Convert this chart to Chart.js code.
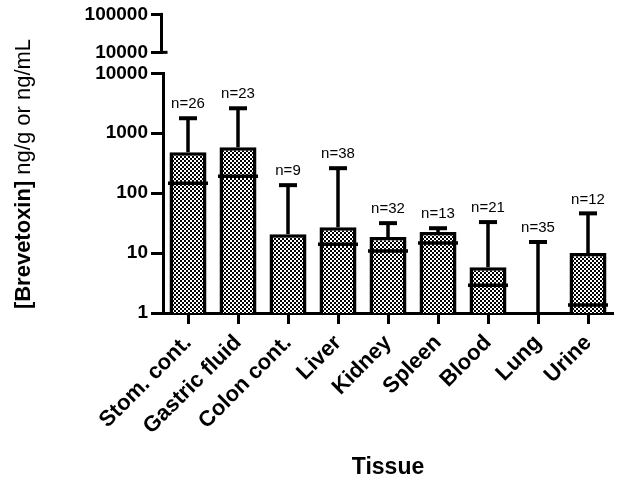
<!DOCTYPE html>
<html>
<head>
<meta charset="utf-8">
<script src="https://cdn.jsdelivr.net/npm/chart.js@4.4.0/dist/chart.umd.min.js"></script>
<style>
  html, body { margin: 0; padding: 0; background: #fff; }
  #wrap { width: 620px; height: 487px; position: relative; }
</style>
</head>
<body>
<div id="wrap"><canvas id="c"></canvas></div>
<script>
const categories = ['Stom. cont.', 'Gastric fluid', 'Colon cont.', 'Liver', 'Kidney', 'Spleen', 'Blood', 'Lung', 'Urine'];
const means   = [482, 584, 20.7, 27, 18.5, 22.4, 5.8, null, 10];
const medians = [147, 192, null, 14, 10.8, 14.7, 2.9, null, 1.36];
const upper   = [1780, 2610, 136, 261, 31.6, 26, 32.9, 15.3, 46];
const nCounts = [26, 23, 9, 38, 32, 13, 21, 35, 12];
const lowerTicks = [1, 10, 100, 1000, 10000];
const upperTicks = [10000, 100000];

const FAM = '"Liberation Sans", Arial, Helvetica, sans-serif';

function makePattern() {
  const c = document.createElement('canvas');
  c.width = 4; c.height = 4;
  const g = c.getContext('2d');
  g.fillStyle = '#fff'; g.fillRect(0, 0, 4, 4);
  g.fillStyle = '#000'; g.fillRect(0, 0, 2, 2); g.fillRect(2, 2, 2, 2);
  return g.createPattern(c, 'repeat');
}

const overlay = {
  id: 'overlay',
  afterDatasetsDraw(chart) {
    const {ctx} = chart;
    const xs = chart.scales.x, ys = chart.scales.y;
    const meta = chart.getDatasetMeta(0);
    ctx.save();
    ctx.strokeStyle = '#000';
    ctx.fillStyle = '#000';
    categories.forEach((c, i) => {
      const cx = xs.getPixelForValue(i);
      const from = ys.getPixelForValue(means[i] == null ? 1 : means[i]);
      const top = ys.getPixelForValue(upper[i]);
      ctx.lineWidth = 3.5;
      ctx.beginPath(); ctx.moveTo(cx, from); ctx.lineTo(cx, top); ctx.stroke();
      ctx.lineWidth = 4;
      ctx.beginPath(); ctx.moveTo(cx - 9, top); ctx.lineTo(cx + 9, top); ctx.stroke();
      if (medians[i] != null) {
        const bw = meta.data[i].width;
        const my = ys.getPixelForValue(medians[i]);
        ctx.lineWidth = 3.5;
        ctx.beginPath(); ctx.moveTo(cx - bw / 2 - 1.5, my); ctx.lineTo(cx + bw / 2 + 1.5, my); ctx.stroke();
      }
      ctx.font = '15px ' + FAM;
      ctx.textAlign = 'center';
      ctx.textBaseline = 'middle';
      ctx.fillText('n=' + nCounts[i], cx, top - 14);
    });
    ctx.restore();
  },
  afterDraw(chart) {
    const {ctx} = chart;
    const ys = chart.scales.y, yt = chart.scales.yTop;
    ctx.save();
    // upper broken axis segment
    const ax = ys.right - 1.5;
    const p1 = yt.getPixelForValue(upperTicks[1]);
    const p0 = yt.getPixelForValue(upperTicks[0]);
    ctx.strokeStyle = '#000';
    ctx.lineWidth = 3;
    ctx.beginPath(); ctx.moveTo(ax, p1 - 1.5); ctx.lineTo(ax, p0 + 1.5); ctx.stroke();
    ctx.beginPath(); ctx.moveTo(ax - 1.5, p0); ctx.lineTo(ax + 6, p0); ctx.stroke();
    // y title with mixed weight
    ctx.translate(24, 174);
    ctx.rotate(-Math.PI / 2);
    ctx.fillStyle = '#000';
    ctx.textBaseline = 'middle';
    ctx.textAlign = 'left';
    const t1 = '[Brevetoxin]', t2 = ' ng/g or ng/mL';
    ctx.font = 'bold 22px ' + FAM;
    const w1 = ctx.measureText(t1).width;
    ctx.font = '22px ' + FAM;
    const w2 = ctx.measureText(t2).width;
    const sx = -(w1 + w2) / 2;
    ctx.font = 'bold 22px ' + FAM;
    ctx.fillText(t1, sx, 0);
    ctx.font = '22px ' + FAM;
    ctx.fillText(t2, sx + w1, 0);
    ctx.restore();
  }
};

const tickFont = {family: FAM, size: 19, weight: 'bold'};
const yGrid = {drawOnChartArea: false, tickLength: 12, tickWidth: 3, tickColor: '#000'};

new Chart(document.getElementById('c'), {
  type: 'bar',
  data: {
    labels: categories,
    datasets: [{
      data: means,
      yAxisID: 'y',
      backgroundColor: makePattern(),
      borderColor: '#000',
      borderWidth: 3.5,
      categoryPercentage: 1,
      barPercentage: 0.74
    }]
  },
  options: {
    responsive: true,
    maintainAspectRatio: false,
    animation: false,
    devicePixelRatio: 1,
    layout: {padding: {left: 0, right: 7, top: 14, bottom: 0}},
    plugins: {legend: {display: false}, tooltip: {enabled: false}},
    scales: {
      y: {
        type: 'logarithmic',
        position: 'left',
        stack: 'ax',
        stackWeight: 240,
        min: 1,
        max: 10000,
        afterBuildTicks: s => { s.ticks = lowerTicks.map(v => ({value: v})); },
        afterFit: s => { s.width = 163; },
        ticks: {font: tickFont, color: '#000', padding: 3, callback: v => String(v)},
        grid: yGrid,
        border: {display: true, width: 3, color: '#000'}
      },
      yTop: {
        type: 'logarithmic',
        position: 'left',
        stack: 'ax',
        stackWeight: 59,
        min: 2801,
        max: 100000,
        afterBuildTicks: s => { s.ticks = upperTicks.map(v => ({value: v})); },
        afterFit: s => { s.width = 163; },
        ticks: {font: tickFont, color: '#000', padding: 3, callback: v => String(v)},
        grid: yGrid,
        border: {display: false}
      },
      x: {
        type: 'category',
        afterFit: s => { s.height = 174; },
        ticks: {font: {family: FAM, size: 22, weight: 'bold'}, color: '#000', maxRotation: 45, minRotation: 45, padding: 6, autoSkip: false},
        grid: {drawOnChartArea: false, offset: false, tickLength: 11, tickWidth: 3, tickColor: '#000'},
        border: {display: true, width: 3, color: '#000'},
        title: {display: true, text: 'Tissue', color: '#000', font: {family: FAM, size: 23, weight: 'bold'}, padding: {top: 0, bottom: 6}}
      }
    }
  },
  plugins: [overlay]
});
</script>
</body>
</html>
